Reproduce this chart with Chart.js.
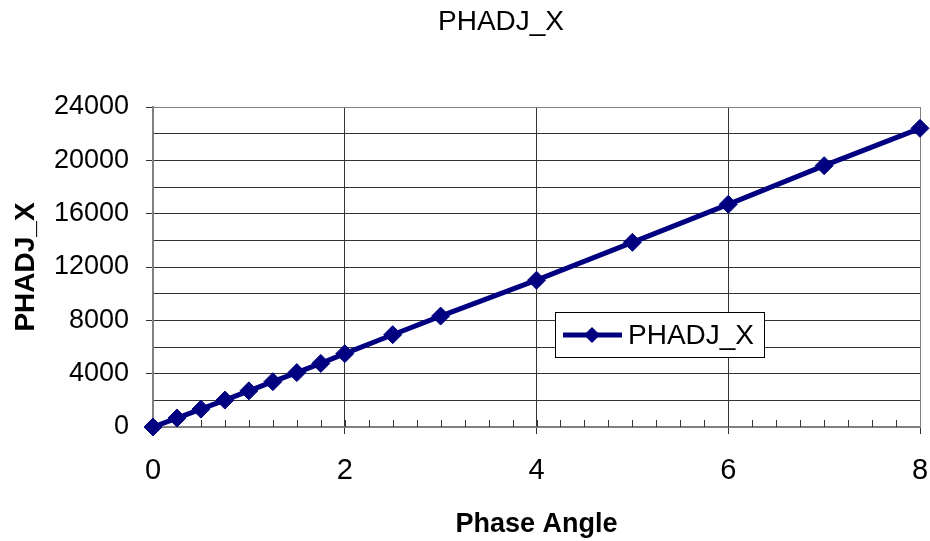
<!DOCTYPE html>
<html>
<head>
<meta charset="utf-8">
<script src="https://cdn.jsdelivr.net/npm/chart.js@4/dist/chart.umd.min.js"></script>
<style>
  html, body { margin: 0; padding: 0; background: #fff; }
  #wrap { width: 930px; height: 541px; }
</style>
</head>
<body>
<div id="wrap"><canvas id="chart" width="930" height="541"></canvas></div>
<script>
// Chart data
const chartTitle = 'PHADJ_X';
const xTitle = 'Phase Angle';
const yTitle = 'PHADJ_X';
const seriesName = 'PHADJ_X';
const phaseAngle = [0, 0.25, 0.5, 0.75, 1, 1.25, 1.5, 1.75, 2, 2.5, 3, 4, 5, 6, 7, 8];
const phadjX = [0, 670, 1340, 2020, 2710, 3400, 4080, 4770, 5500, 6920, 8320, 11010, 13850, 16700, 19600, 22400];
const xTicks = [0, 2, 4, 6, 8];
const yTicks = [0, 4000, 8000, 12000, 16000, 20000, 24000];

const navy = '#000080';
const gridCol = '#333333';
const frameCol = '#808080';
const FONT = 'Liberation Sans, Arial, sans-serif';

// Title drawn centred above the plot, like the original
const titlePlugin = {
    id: 'topTitle',
    afterDraw(chart) {
        const ctx = chart.ctx;
        ctx.save();
        ctx.font = '28px ' + FONT;
        ctx.fillStyle = '#000';
        ctx.textAlign = 'center';
        ctx.textBaseline = 'middle';
        ctx.fillText(chartTitle, 501, 22);
        ctx.restore();
    }
};

// Small inside ticks every 0.25 along the x axis
const minorTicks = {
    id: 'minorTicks',
    beforeDatasetsDraw(chart) {
        const ctx = chart.ctx;
        const x = chart.scales.x;
        const area = chart.chartArea;
        ctx.save();
        ctx.strokeStyle = gridCol;
        ctx.lineWidth = 1;
        ctx.beginPath();
        for (let v = 0.25; v < 8; v += 0.25) {
            const px = Math.round(x.getPixelForValue(v)) + 0.5;
            ctx.moveTo(px, area.bottom);
            ctx.lineTo(px, area.bottom - 7);
        }
        ctx.stroke();
        ctx.restore();
    }
};

// Legend box sitting inside the plot area
const boxLegend = {
    id: 'boxLegend',
    afterDraw(chart) {
        const ctx = chart.ctx;
        const ds = chart.data.datasets[0];
        ctx.save();
        ctx.fillStyle = '#fff';
        ctx.fillRect(555.5, 312.5, 209, 45);
        ctx.strokeStyle = '#000';
        ctx.lineWidth = 1;
        ctx.strokeRect(555.5, 312.5, 209, 45);
        ctx.strokeStyle = ds.borderColor;
        ctx.lineWidth = 5;
        ctx.beginPath();
        ctx.moveTo(563, 335);
        ctx.lineTo(622, 335);
        ctx.stroke();
        ctx.fillStyle = ds.pointBackgroundColor;
        ctx.beginPath();
        ctx.moveTo(592, 327);
        ctx.lineTo(600, 335);
        ctx.lineTo(592, 343);
        ctx.lineTo(584, 335);
        ctx.closePath();
        ctx.fill();
        ctx.fillStyle = '#000';
        ctx.font = '28px ' + FONT;
        ctx.textBaseline = 'middle';
        ctx.fillText(ds.label, 628, 336);
        ctx.restore();
    }
};

const ctx = document.getElementById('chart').getContext('2d');
const chart = new Chart(ctx, {
    type: 'line',
    data: {
        datasets: [{
            label: seriesName,
            data: phaseAngle.map((x, i) => ({ x: x, y: phadjX[i] })),
            borderColor: navy,
            backgroundColor: navy,
            pointBackgroundColor: navy,
            pointBorderColor: navy,
            borderWidth: 5,
            pointStyle: 'rectRot',
            pointRadius: 9,
            pointBorderWidth: 1,
            tension: 0,
            fill: false,
            clip: false
        }]
    },
    plugins: [titlePlugin, minorTicks, boxLegend],
    options: {
        responsive: false,
        animation: false,
        events: [],
        layout: { padding: { top: 107, right: 10, left: 0, bottom: 0 } },
        plugins: {
            legend: { display: false },
            tooltip: { enabled: false },
            title: { display: false }
        },
        scales: {
            x: {
                type: 'linear',
                min: 0,
                max: 8,
                afterFit(scale) {
                    scale.height = 114;
                    scale.paddingLeft = 0;
                    scale.paddingRight = 0;
                },
                afterBuildTicks(scale) {
                    const t = [];
                    for (let v = 0; v <= 8; v += 2) t.push({ value: v });
                    scale.ticks = t;
                },
                ticks: {
                    autoSkip: false,
                    maxRotation: 0,
                    padding: 20,
                    color: '#000',
                    font: { family: FONT, size: 29 },
                    callback: (v) => xTicks.includes(v) ? String(v) : ''
                },
                grid: {
                    color: (c) => c.tick && c.tick.value === 8 ? frameCol : gridCol,
                    tickColor: gridCol,
                    tickLength: 7,
                    drawTicks: true
                },
                border: { color: frameCol, width: 2 },
                title: {
                    display: true,
                    text: xTitle,
                    color: '#000',
                    font: { family: FONT, size: 27, weight: 'bold' },
                    padding: { top: 0, bottom: 0 }
                }
            },
            y: {
                type: 'linear',
                min: 0,
                max: 24000,
                afterFit(scale) {
                    scale.width = 153;
                    scale.paddingTop = 0;
                    scale.paddingBottom = 0;
                },
                ticks: {
                    stepSize: 2000,
                    autoSkip: false,
                    padding: 17,
                    color: '#000',
                    font: { family: FONT, size: 27 },
                    callback: (v) => yTicks.includes(v) ? String(v) : ''
                },
                grid: {
                    color: (c) => c.tick && c.tick.value === 24000 ? frameCol : gridCol,
                    tickColor: (c) => c.tick && yTicks.includes(c.tick.value) ? gridCol : 'transparent',
                    tickLength: 7
                },
                border: { color: frameCol, width: 2 },
                title: {
                    display: true,
                    text: yTitle,
                    color: '#000',
                    font: { family: FONT, size: 28, weight: 'bold' },
                    padding: { top: 9, bottom: 0 }
                }
            }
        }
    }
});
</script>
</body>
</html>
